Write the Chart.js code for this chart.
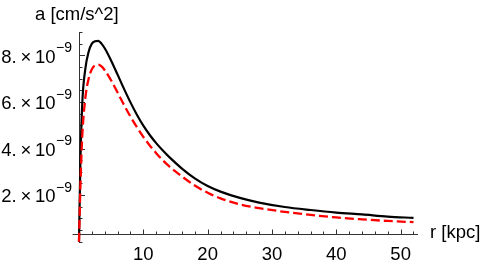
<!DOCTYPE html>
<html>
<head>
<meta charset="utf-8">
<script src="https://cdn.jsdelivr.net/npm/chart.js@4"></script>
<style>
  html, body { margin: 0; padding: 0; background: #fff; }
  #wrap { width: 485px; height: 262px; }
</style>
</head>
<body>
<div id="wrap"><canvas id="mychart" width="485" height="262"></canvas></div>
<script>
// radius in kpc
const radius = [0, 0.2, 0.5, 1, 1.5, 2, 2.5, 3, 3.5, 4, 5, 6, 7, 8, 9, 10, 11, 12, 13, 14, 16, 18, 20, 22, 25, 28, 32, 36, 40, 44, 48, 52];
// acceleration in units of 10^-9 cm/s^2
const accSolid = [0, 3.2, 5.9, 7.45, 8.15, 8.5, 8.6, 8.62, 8.5, 8.3, 7.77, 7.17, 6.56, 5.98, 5.45, 4.98, 4.58, 4.23, 3.92, 3.64, 3.14, 2.72, 2.39, 2.15, 1.88, 1.68, 1.49, 1.36, 1.25, 1.17, 1.08, 1.02];
const accDashed = [0, 2.2, 4.5, 6.2, 7.0, 7.4, 7.57, 7.6, 7.52, 7.36, 6.92, 6.4, 5.87, 5.37, 4.92, 4.5, 4.13, 3.8, 3.5, 3.24, 2.8, 2.41, 2.1, 1.86, 1.6, 1.44, 1.28, 1.15, 1.04, 0.96, 0.89, 0.84];

const xMajor = [10, 20, 30, 40, 50];
const yMajor = [2, 4, 6, 8];

const FONT = "Liberation Sans, Arial, sans-serif";

const toPoints = (ys) => radius.map((r, i) => ({ x: r, y: ys[i] }));

// Mathematica-style axes: crossing lines with inward ticks, "n. × 10^-9" labels
const axesPlugin = {
  id: "axes",
  beforeDatasetsDraw(chart) {
    const { ctx } = chart;
    const xs = chart.scales.x;
    const ys = chart.scales.y;
    const axisY = Math.round(ys.getPixelForValue(0.33));
    const axisX = Math.round(xs.getPixelForValue(0));
    ctx.save();
    ctx.strokeStyle = "#333";
    ctx.lineWidth = 1;
    ctx.beginPath();
    ctx.moveTo(xs.getPixelForValue(-1), axisY + 0.5);
    ctx.lineTo(xs.getPixelForValue(52.7), axisY + 0.5);
    ctx.moveTo(axisX + 0.5, ys.getPixelForValue(9));
    ctx.lineTo(axisX + 0.5, ys.getPixelForValue(0));
    for (let v = 2; v <= 52; v += 2) {
      const px = Math.round(xs.getPixelForValue(v)) + 0.5;
      const len = v % 10 === 0 ? 4.5 : 2.5;
      ctx.moveTo(px, axisY);
      ctx.lineTo(px, axisY - len);
    }
    for (let v = 0; v <= 9; v += 0.5) {
      const py = Math.round(ys.getPixelForValue(v)) + 0.5;
      const len = yMajor.includes(v) ? 6 : 3.5;
      ctx.moveTo(axisX, py);
      ctx.lineTo(axisX + len, py);
    }
    ctx.stroke();

    ctx.fillStyle = "#000";
    ctx.textBaseline = "alphabetic";
    ctx.textAlign = "right";
    const right = axisX - 7;
    yMajor.forEach((v) => {
      const py = ys.getPixelForValue(v);
      ctx.font = "14px " + FONT;
      const sup = "\u22129";
      const supW = ctx.measureText(sup).width;
      ctx.fillText(sup, right, py - 3.3);
      ctx.font = "18.5px " + FONT;
      ctx.fillText(v + ".\u2009\u00d7\u200910", right - supW - 0.5, py + 7.3);
    });

    ctx.font = "18.5px " + FONT;
    ctx.textAlign = "left";
    ctx.fillText("a [cm/s^2]", 35, 19.5);
    ctx.fillText("r [kpc]", 430, 238);
    ctx.restore();
  },
};

const myChart = new Chart(document.getElementById("mychart"), {
  type: "line",
  data: {
    datasets: [
      {
        data: toPoints(accDashed),
        borderColor: "#ff0000",
        borderWidth: 2.3,
        borderDash: [9, 4],
        pointRadius: 0,
        cubicInterpolationMode: "monotone",
        clip: false,
      },
      {
        data: toPoints(accSolid),
        borderColor: "#000000",
        borderWidth: 2.2,
        pointRadius: 0,
        cubicInterpolationMode: "monotone",
        clip: false,
      },
    ],
  },
  options: {
    responsive: false,
    animation: false,
    layout: { padding: { left: 0, top: 32, right: 67, bottom: 0 } },
    plugins: { legend: { display: false }, tooltip: { enabled: false } },
    scales: {
      x: {
        type: "linear",
        min: 0,
        max: 52.7,
        grid: { display: false },
        border: { display: false },
        afterBuildTicks: (s) => { s.ticks = xMajor.map((v) => ({ value: v })); },
        afterFit: (s) => { s.height = 20.3; },
        ticks: {
          padding: -6,
          color: "#000",
          font: { family: FONT, size: 18.5 },
          maxRotation: 0,
          callback: (v) => String(v),
        },
      },
      y: {
        type: "linear",
        min: 0,
        max: 9,
        grid: { display: false },
        border: { display: false },
        afterBuildTicks: (s) => { s.ticks = yMajor.map((v) => ({ value: v })); },
        afterFit: (s) => { s.width = 79; },
        ticks: { display: false },
      },
    },
  },
  plugins: [axesPlugin],
});
</script>
</body>
</html>
